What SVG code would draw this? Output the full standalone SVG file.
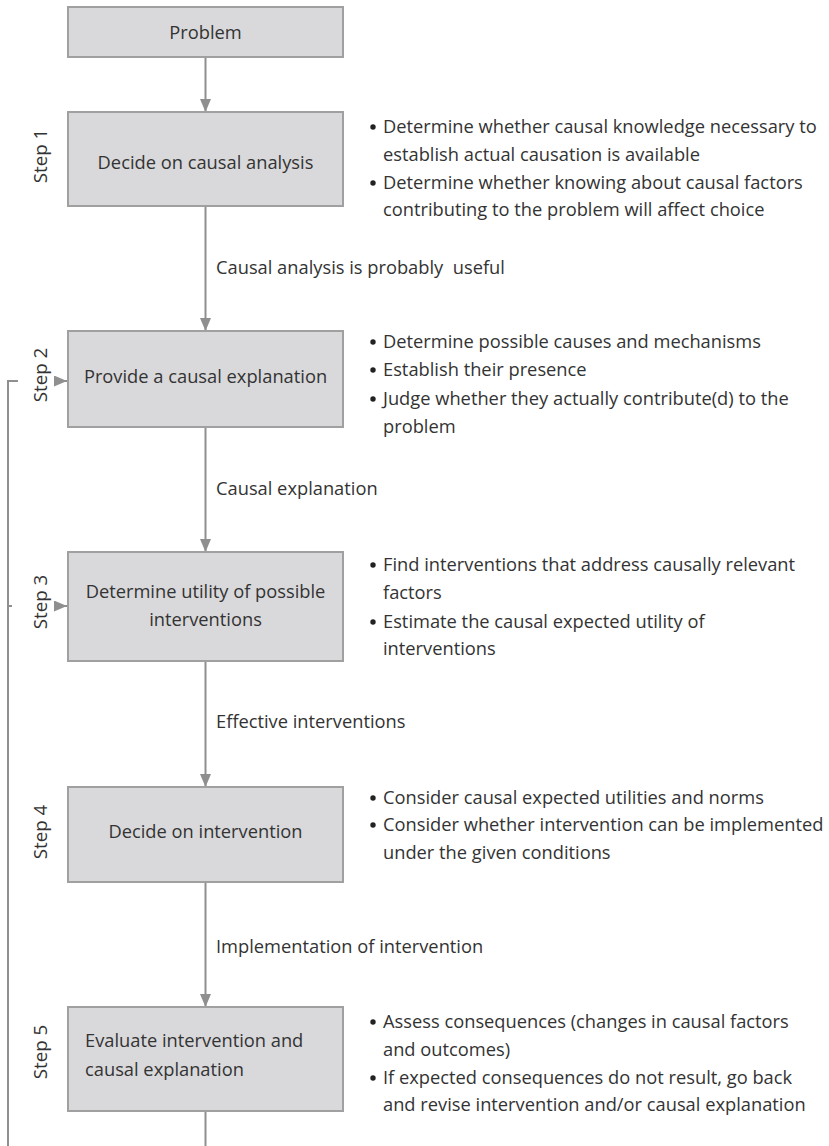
<svg xmlns="http://www.w3.org/2000/svg" width="829" height="1146" viewBox="0 0 829 1146">
<style>
.box{fill:#d9d9db;stroke:#a0a0a0;stroke-width:2}
.t{font-family:"Open Sans","Noto Sans",sans-serif;font-size:18.3px;fill:#333}
.c{text-anchor:middle}
.s{font-size:18.8px}
.ln{fill:none;stroke:#8f8f8f;stroke-width:2}
.dot{fill:#222}
</style>
<defs>
<marker id="ah" viewBox="0 0 13 11" refX="13" refY="5.5" markerWidth="13" markerHeight="11" markerUnits="userSpaceOnUse" orient="auto">
<path d="M0,0 L13,5.5 L0,11 z" fill="#8f8f8f"/>
</marker>
</defs>
<rect width="829" height="1146" fill="#fff"/>
<g id="connectors">
<path class="ln" d="M205.5,57 V112" marker-end="url(#ah)"/>
<path class="ln" d="M205.5,206 V331" marker-end="url(#ah)"/>
<path class="ln" d="M205.5,427 V552" marker-end="url(#ah)"/>
<path class="ln" d="M205.5,661 V787" marker-end="url(#ah)"/>
<path class="ln" d="M205.5,882 V1007" marker-end="url(#ah)"/>
<path class="ln" d="M205.5,1111 V1146"/>
<path class="ln" d="M8,1146 V381 H18"/>
<path class="ln" d="M8,606 H12"/>
<path class="ln" d="M56,381 H67" marker-end="url(#ah)"/>
<path class="ln" d="M56,606 H67" marker-end="url(#ah)"/>
<text class="t" x="216" y="274" xml:space="preserve">Causal analysis is probably  useful</text>
<text class="t" x="216" y="495">Causal explanation</text>
<text class="t" x="216" y="728">Effective interventions</text>
<text class="t" x="216" y="953">Implementation of intervention</text>
</g>
<g id="problem">
<rect class="box" x="68" y="7" width="275" height="50"/>
<text class="t c" x="205.5" y="39">Problem</text>
</g>
<g id="step1">
<rect class="box" x="68" y="112" width="275" height="94"/>
<text class="t c" x="205.5" y="169">Decide on causal analysis</text>
<text class="t c s" transform="translate(47,156) rotate(-90)">Step 1</text>
<circle class="dot" cx="373" cy="127" r="2.7"/>
<text class="t" x="383" y="133">Determine whether causal knowledge necessary to</text>
<text class="t" x="383" y="161">establish actual causation is available</text>
<circle class="dot" cx="373" cy="183" r="2.7"/>
<text class="t" x="383" y="189">Determine whether knowing about causal factors</text>
<text class="t" x="383" y="216">contributing to the problem will affect choice</text>
</g>
<g id="step2">
<rect class="box" x="68" y="331" width="275" height="96"/>
<text class="t c" x="205.5" y="383">Provide a causal explanation</text>
<text class="t c s" transform="translate(47,375) rotate(-90)">Step 2</text>
<circle class="dot" cx="373" cy="342" r="2.7"/>
<text class="t" x="383" y="348">Determine possible causes and mechanisms</text>
<circle class="dot" cx="373" cy="370" r="2.7"/>
<text class="t" x="383" y="376">Establish their presence</text>
<circle class="dot" cx="373" cy="399" r="2.7"/>
<text class="t" x="383" y="405">Judge whether they actually contribute(d) to the</text>
<text class="t" x="383" y="433">problem</text>
</g>
<g id="step3">
<rect class="box" x="68" y="552" width="275" height="109"/>
<text class="t c" x="205.5" y="598">Determine utility of possible</text>
<text class="t c" x="205.5" y="626">interventions</text>
<text class="t c s" transform="translate(47,602) rotate(-90)">Step 3</text>
<circle class="dot" cx="373" cy="565" r="2.7"/>
<text class="t" x="383" y="571">Find interventions that address causally relevant</text>
<text class="t" x="383" y="599">factors</text>
<circle class="dot" cx="373" cy="622" r="2.7"/>
<text class="t" x="383" y="628">Estimate the causal expected utility of</text>
<text class="t" x="383" y="655">interventions</text>
</g>
<g id="step4">
<rect class="box" x="68" y="787" width="275" height="95"/>
<text class="t c" x="205.5" y="838">Decide on intervention</text>
<text class="t c s" transform="translate(47,832) rotate(-90)">Step 4</text>
<circle class="dot" cx="373" cy="798" r="2.7"/>
<text class="t" x="383" y="804">Consider causal expected utilities and norms</text>
<circle class="dot" cx="373" cy="825" r="2.7"/>
<text class="t" x="383" y="831">Consider whether intervention can be implemented</text>
<text class="t" x="383" y="859">under the given conditions</text>
</g>
<g id="step5">
<rect class="box" x="68" y="1007" width="275" height="104"/>
<text class="t" x="85" y="1047">Evaluate intervention and</text>
<text class="t" x="85" y="1076">causal explanation</text>
<text class="t c s" transform="translate(47,1052) rotate(-90)">Step 5</text>
<circle class="dot" cx="373" cy="1022" r="2.7"/>
<text class="t" x="383" y="1028">Assess consequences (changes in causal factors</text>
<text class="t" x="383" y="1056">and outcomes)</text>
<circle class="dot" cx="373" cy="1078" r="2.7"/>
<text class="t" x="383" y="1084">If expected consequences do not result, go back</text>
<text class="t" x="383" y="1111">and revise intervention and/or causal explanation</text>
</g>
</svg>
